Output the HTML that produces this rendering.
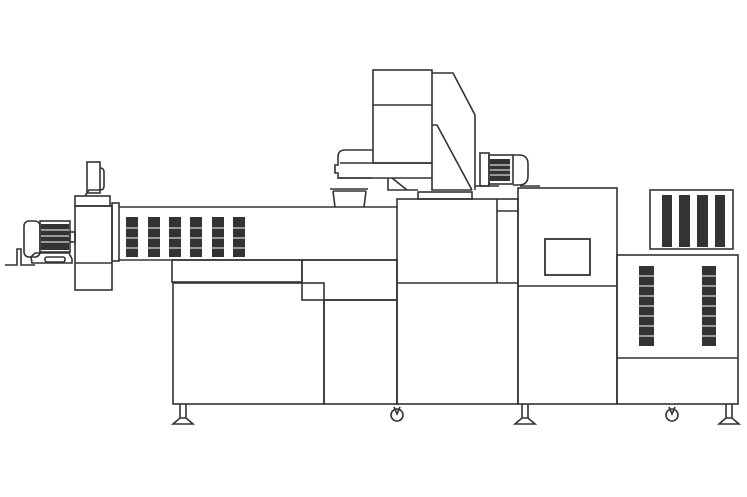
<!DOCTYPE html>
<html><head><meta charset="utf-8"><style>html,body{margin:0;padding:0;background:#fff}svg{display:block}</style></head>
<body>
<svg width="747" height="497" viewBox="0 0 747 497" xmlns="http://www.w3.org/2000/svg">
<g fill="none" stroke="#333" stroke-width="1.6">
<!-- left drive -->
<rect x="87" y="162" width="13" height="31"/>
<path d="M100 168 q4 0 4 4 v14 q0 4 -4 4"/>
<path d="M85 196 l4 -6 h11"/>
<rect x="75" y="196" width="35" height="10"/>
<rect x="75" y="206" width="37" height="84"/>
<line x1="75" y1="263" x2="112" y2="263"/>
<rect x="112" y="203" width="7" height="58"/>
<rect x="24" y="221" width="16" height="36" rx="5"/>
<rect x="40" y="221" width="30" height="31"/>
<path d="M31 257 l4 -4 h34 l3 6 v4 h-40 z"/>
<rect x="45" y="257" width="20" height="5" rx="2"/>
<rect x="70" y="232" width="5" height="10"/>
<path d="M5 265 h12 v-16 h4 v16 h14"/>
<!-- barrel -->
<path d="M119 207 H397"/>
<path d="M119 260 H397"/>
<!-- lower parts -->
<rect x="172" y="260" width="130" height="22"/>
<rect x="302" y="260" width="95" height="40"/>
<rect x="173" y="283" width="151" height="121"/>
<rect x="324" y="300" width="73" height="104"/>
<rect x="397" y="199" width="121" height="205"/>
<line x1="397" y1="283" x2="518" y2="283"/>
<line x1="497" y1="199" x2="497" y2="283"/>
<line x1="497" y1="211" x2="518" y2="211"/>
<!-- hopper -->
<path d="M330 189 h38 M333 191 l2 16 M366 191 l-2 16 M333 191 h33"/>
<rect x="418" y="192" width="54" height="7"/>
<!-- top unit -->
<rect x="373" y="70" width="59" height="93"/>
<line x1="373" y1="105" x2="432" y2="105"/>
<path d="M432 73 H453 L475 115 V190"/>
<path d="M432 125 H437 L472 190"/>
<path d="M432 163 V190 H472"/>
<path d="M373 150 H345 q-7 0 -7 7 v8 h-3 v8 h3 v5 h34"/>
<line x1="340" y1="163" x2="432" y2="163"/>
<line x1="338" y1="178" x2="432" y2="178"/>
<path d="M388 178 v12 h30 M392 178 l15 12"/>
<rect x="480" y="153" width="9" height="33"/>
<rect x="489" y="155" width="24" height="29"/>
<path d="M513 155 h6 q9 0 9 9 v12 q0 9 -9 9 h-6"/>
<path d="M475 186 H499 M520 186 H540"/>
<!-- control cabinet -->
<rect x="518" y="188" width="99" height="216"/>
<line x1="518" y1="286" x2="617" y2="286"/>
<rect x="545" y="239" width="45" height="36" stroke-width="1.8"/>
<!-- right cabinet -->
<rect x="617" y="255" width="121" height="149"/>
<line x1="617" y1="358" x2="738" y2="358"/>
<rect x="650" y="190" width="83" height="59"/>
<!-- feet -->
<path d="M180 404 v14 M186 404 v14 M173 424 l7 -6 h6 l7 6 z"/>
<path d="M522 404 v14 M528 404 v14 M515 424 l7 -6 h6 l7 6 z"/>
<path d="M726 404 v14 M732 404 v14 M719 424 l7 -6 h6 l7 6 z"/>
<circle cx="397" cy="415" r="6"/><path d="M394 407 l3 7 l3 -7"/>
<circle cx="672" cy="415" r="6"/><path d="M669 407 l3 7 l3 -7"/>
</g>
<g fill="#333">
<rect x="41" y="224" width="28" height="26"/>
<rect x="126" y="217" width="12" height="40"/><rect x="148" y="217" width="12" height="40"/>
<rect x="169" y="217" width="12" height="40"/><rect x="190" y="217" width="12" height="40"/>
<rect x="212" y="217" width="12" height="40"/><rect x="233" y="217" width="12" height="40"/>
<rect x="490" y="159" width="20" height="22"/>
<rect x="662" y="195" width="10" height="52"/><rect x="679" y="195" width="11" height="52"/>
<rect x="697" y="195" width="11" height="52"/><rect x="715" y="195" width="10" height="52"/>
<rect x="639" y="266" width="15" height="80"/><rect x="702" y="266" width="14" height="80"/>
</g>
<g stroke="#fff" stroke-width="1">
<path d="M41 230h28M41 236h28M41 242h28"/>
<path d="M124 228h124M124 238h124M124 248h124"/>
<path d="M490 165h20M490 170h20M490 175h20"/>
<path d="M637 276h82M637 286h82M637 296h82M637 306h82M637 316h82M637 326h82M637 336h82"/>
</g>
</svg>
</body></html>
